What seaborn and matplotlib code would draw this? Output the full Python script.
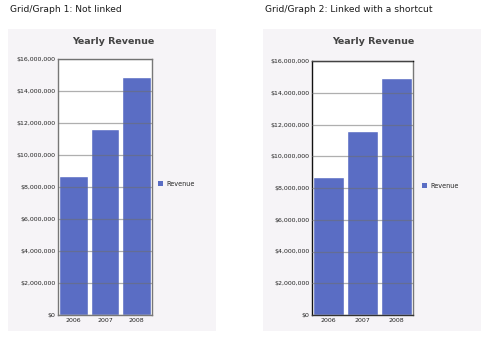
import matplotlib
matplotlib.use("Agg")
import matplotlib.pyplot as plt
from matplotlib.patches import Patch
from matplotlib.ticker import FuncFormatter, MultipleLocator
import seaborn as sns
import pandas as pd

years = ["2006", "2007", "2008"]
revenue_1 = [8.7e6, 11.6e6, 14.9e6]
revenue_2 = [8.7e6, 11.6e6, 14.9e6]
headers = ["Grid/Graph 1: Not linked", "Grid/Graph 2: Linked with a shortcut"]
chart_title = "Yearly Revenue"
series_name = "Revenue"

BAR = "#5a6dc4"
PANEL_BG = "#f6f4f7"
W, H = 495, 344

sns.set_theme(style="white")
plt.rcParams["font.family"] = ["DejaVu Sans"]

fig = plt.figure(figsize=(W / 100, H / 100), dpi=100)
fig.patch.set_facecolor("white")

def fx(x):
    return x / W

def fy(y):
    return 1 - y / H

panels = [
    dict(box=(8, 29, 216, 331), ax=(58, 59, 152, 315), leg=(158, 184), hx=10,
         vals=revenue_1, spine_dark=False, header=headers[0]),
    dict(box=(263, 29, 481, 331), ax=(312, 61, 413, 315), leg=(422, 186), hx=265,
         vals=revenue_2, spine_dark=True, header=headers[1]),
]

for p in panels:
    x0, y0, x1, y1 = p["box"]
    bg = fig.add_axes([fx(x0), fy(y1), fx(x1 - x0), (y1 - y0) / H], zorder=0)
    bg.set_facecolor(PANEL_BG)
    bg.set_xticks([])
    bg.set_yticks([])
    for s in bg.spines.values():
        s.set_visible(False)
    fig.text(fx(p["hx"]), fy(9), p["header"], fontsize=6.6, color="#1a1a1a",
             ha="left", va="center")
    fig.text(fx((x0 + x1) / 2 + 1), fy(42), chart_title,
             fontsize=6.8, fontweight="bold", color="#444444", ha="center", va="center")

    ax0, ay0, ax1, ay1 = p["ax"]
    ax = fig.add_axes([fx(ax0), fy(ay1), fx(ax1 - ax0), (ay1 - ay0) / H], zorder=2)
    ax.set_facecolor("white")
    df = pd.DataFrame({"year": years, "value": p["vals"]})
    sns.barplot(data=df, x="year", y="value", color=BAR, width=0.9,
                saturation=1, ax=ax, zorder=2)
    ax.set_xlim(-0.48, 2.48)
    ax.set_ylim(0, 16e6)
    ax.yaxis.set_major_locator(MultipleLocator(2e6))
    ax.yaxis.set_major_formatter(FuncFormatter(lambda v, _: f"${v:,.0f}"))
    ax.grid(axis="y", color="#6e6e6e", lw=0.9, alpha=0.55, zorder=3)
    ax.set_axisbelow(False)
    ax.set_xlabel("")
    ax.set_ylabel("")
    ax.tick_params(axis="both", length=0, labelsize=4.5, colors="#222222", pad=2)
    for s in ax.spines.values():
        s.set_color("#777777")
        s.set_linewidth(1.0)
    if p["spine_dark"]:
        ax.spines["left"].set_color("#111111")
        ax.spines["top"].set_color("#111111")
        ax.spines["bottom"].set_color("#333333")

    lx, ly = p["leg"]
    ax.legend(handles=[Patch(facecolor=BAR, edgecolor="none", label=series_name)],
              loc="center left", bbox_to_anchor=(fx(lx), fy(ly)),
              bbox_transform=fig.transFigure, frameon=False, fontsize=4.7,
              handlelength=0.8, handleheight=0.8, handletextpad=0.5,
              borderpad=0, borderaxespad=0)

fig.savefig("out.png", dpi=100, facecolor="white")
